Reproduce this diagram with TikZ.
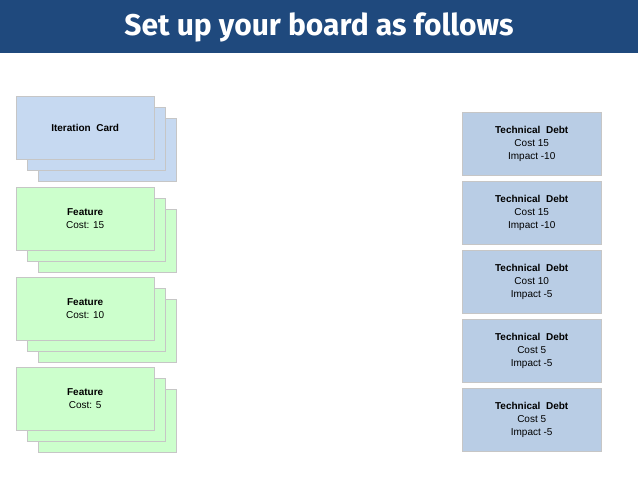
\documentclass[tikz,border=0pt]{standalone}
\usepackage{fontspec}
\setmainfont{Liberation Sans}
\newfontfamily\titlefont{Fira Sans}
\usetikzlibrary{shadows}
\definecolor{titleblue}{HTML}{1F497D}
\definecolor{iterblue}{HTML}{C6D9F1}
\definecolor{featgreen}{HTML}{CCFFCC}
\definecolor{debtblue}{HTML}{B9CDE5}
\tikzset{
  card/.style={draw=gray!45,line width=0.4pt,minimum width=138pt,minimum height=63pt,
    inner sep=0pt,align=center,font=\fontsize{10}{13}\selectfont,
    drop shadow={shadow xshift=1pt,shadow yshift=-1pt,opacity=0.25}},
  itercard/.style={card,fill=iterblue},
  featcard/.style={card,fill=featgreen},
  debtcard/.style={card,fill=debtblue,minimum width=139pt},
}
\begin{document}
\begin{tikzpicture}[x=1pt,y=-1pt]
\useasboundingbox (0,0) rectangle (638,479);
\fill[titleblue] (0,0) rectangle (638,53);
\node[text=white,font=\titlefont\bfseries\fontsize{30}{34}\selectfont] (title) at (319,27) {Set up your board as follows};
% iteration card stack
\node[itercard,anchor=north west] (iterC) at (38,118) {};
\node[itercard,anchor=north west] (iterB) at (27,107) {};
\node[itercard,anchor=north west] (iterA) at (16,96) {\textbf{Iteration\ \ Card}};
% feature stacks
\foreach \y/\c [count=\i] in {187/15,277/10,367/5}{
  \node[featcard,anchor=north west] (feat\i C) at (38,\y+22) {};
  \node[featcard,anchor=north west] (feat\i B) at (27,\y+11) {};
  \node[featcard,anchor=north west] (feat\i A) at (16,\y) {\textbf{Feature}\\Cost: \c};
}
% technical debt cards
\foreach \y/\c/\m [count=\i] in {112/15/10,181/15/10,250/10/5,319/5/5,388/5/5}{
  \node[debtcard,anchor=north west] (debt\i) at (462,\y) {\textbf{Technical\ \ Debt}\\Cost \c\\Impact -\m};
}
\end{tikzpicture}
\end{document}
